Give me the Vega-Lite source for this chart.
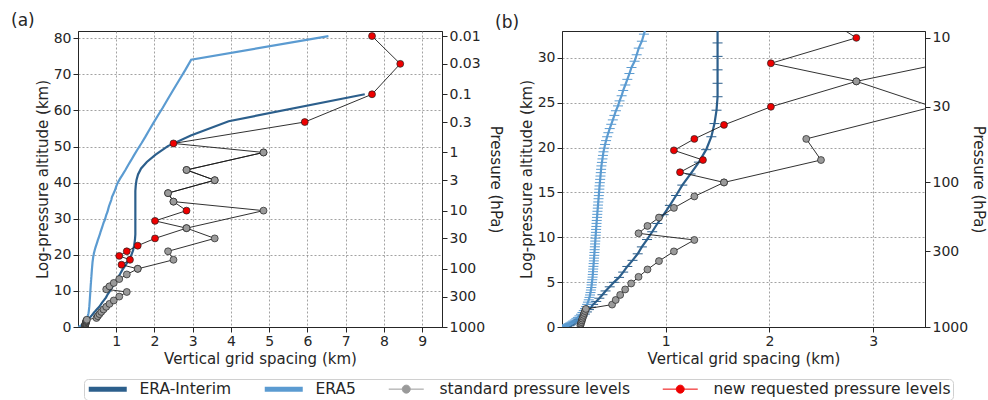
{
  "$schema": "https://vega.github.io/schema/vega-lite/v6.json",
  "padding": {"left": 10, "top": 11, "right": 5, "bottom": 2},
  "background": "white",
  "bounds": "flush",
  "spacing": 120,
  "datasets": {
    "era": [
      {"cat":"ERA-Interim","z":0.02,"dz":0.02},{"cat":"ERA-Interim","z":0.07,"dz":0.05},{"cat":"ERA-Interim","z":0.14,"dz":0.07},{"cat":"ERA-Interim","z":0.22,"dz":0.08},{"cat":"ERA-Interim","z":0.31,"dz":0.09},{"cat":"ERA-Interim","z":0.42,"dz":0.11},{"cat":"ERA-Interim","z":0.54,"dz":0.12},{"cat":"ERA-Interim","z":0.68,"dz":0.14},{"cat":"ERA-Interim","z":0.84,"dz":0.16},{"cat":"ERA-Interim","z":1.02,"dz":0.18},{"cat":"ERA-Interim","z":1.22,"dz":0.20},{"cat":"ERA-Interim","z":1.44,"dz":0.22},{"cat":"ERA-Interim","z":1.68,"dz":0.24},{"cat":"ERA-Interim","z":1.94,"dz":0.26},{"cat":"ERA-Interim","z":2.22,"dz":0.28},{"cat":"ERA-Interim","z":2.52,"dz":0.30},{"cat":"ERA-Interim","z":2.85,"dz":0.33},{"cat":"ERA-Interim","z":3.21,"dz":0.36},{"cat":"ERA-Interim","z":3.60,"dz":0.39},{"cat":"ERA-Interim","z":4.02,"dz":0.42},{"cat":"ERA-Interim","z":4.48,"dz":0.46},{"cat":"ERA-Interim","z":4.98,"dz":0.50},{"cat":"ERA-Interim","z":5.53,"dz":0.55},{"cat":"ERA-Interim","z":6.12,"dz":0.59},{"cat":"ERA-Interim","z":6.75,"dz":0.63},{"cat":"ERA-Interim","z":7.43,"dz":0.68},{"cat":"ERA-Interim","z":8.16,"dz":0.73},{"cat":"ERA-Interim","z":8.93,"dz":0.77},{"cat":"ERA-Interim","z":9.75,"dz":0.82},{"cat":"ERA-Interim","z":10.62,"dz":0.87},{"cat":"ERA-Interim","z":11.54,"dz":0.92},{"cat":"ERA-Interim","z":12.52,"dz":0.98},{"cat":"ERA-Interim","z":13.56,"dz":1.04},{"cat":"ERA-Interim","z":14.66,"dz":1.10},{"cat":"ERA-Interim","z":15.82,"dz":1.16},{"cat":"ERA-Interim","z":17.06,"dz":1.24},{"cat":"ERA-Interim","z":18.38,"dz":1.32},{"cat":"ERA-Interim","z":19.77,"dz":1.39},{"cat":"ERA-Interim","z":21.21,"dz":1.44},{"cat":"ERA-Interim","z":22.68,"dz":1.47},{"cat":"ERA-Interim","z":24.17,"dz":1.49},{"cat":"ERA-Interim","z":25.67,"dz":1.50},{"cat":"ERA-Interim","z":27.17,"dz":1.50},{"cat":"ERA-Interim","z":28.67,"dz":1.50},{"cat":"ERA-Interim","z":30.17,"dz":1.50},{"cat":"ERA-Interim","z":31.67,"dz":1.50},{"cat":"ERA-Interim","z":33.17,"dz":1.50},{"cat":"ERA-Interim","z":34.67,"dz":1.50},{"cat":"ERA-Interim","z":36.17,"dz":1.50},{"cat":"ERA-Interim","z":37.67,"dz":1.50},{"cat":"ERA-Interim","z":39.18,"dz":1.51},{"cat":"ERA-Interim","z":40.71,"dz":1.53},{"cat":"ERA-Interim","z":42.28,"dz":1.57},{"cat":"ERA-Interim","z":43.93,"dz":1.65},{"cat":"ERA-Interim","z":45.73,"dz":1.80},{"cat":"ERA-Interim","z":47.76,"dz":2.03},{"cat":"ERA-Interim","z":50.11,"dz":2.35},{"cat":"ERA-Interim","z":53.06,"dz":2.95},{"cat":"ERA-Interim","z":57.00,"dz":3.94},{"cat":"ERA-Interim","z":64.47,"dz":7.50},
      {"cat":"ERA5","z":0.02,"dz":0.01},{"cat":"ERA5","z":0.04,"dz":0.02},{"cat":"ERA5","z":0.06,"dz":0.02},{"cat":"ERA5","z":0.08,"dz":0.02},{"cat":"ERA5","z":0.10,"dz":0.022},{"cat":"ERA5","z":0.13,"dz":0.027},{"cat":"ERA5","z":0.16,"dz":0.033},{"cat":"ERA5","z":0.20,"dz":0.04},{"cat":"ERA5","z":0.25,"dz":0.048},{"cat":"ERA5","z":0.31,"dz":0.058},{"cat":"ERA5","z":0.38,"dz":0.069},{"cat":"ERA5","z":0.46,"dz":0.081},{"cat":"ERA5","z":0.55,"dz":0.094},{"cat":"ERA5","z":0.66,"dz":0.108},{"cat":"ERA5","z":0.78,"dz":0.123},{"cat":"ERA5","z":0.92,"dz":0.138},{"cat":"ERA5","z":1.07,"dz":0.153},{"cat":"ERA5","z":1.24,"dz":0.168},{"cat":"ERA5","z":1.42,"dz":0.183},{"cat":"ERA5","z":1.62,"dz":0.197},{"cat":"ERA5","z":1.83,"dz":0.21},{"cat":"ERA5","z":2.05,"dz":0.222},{"cat":"ERA5","z":2.28,"dz":0.233},{"cat":"ERA5","z":2.52,"dz":0.242},{"cat":"ERA5","z":2.77,"dz":0.25},{"cat":"ERA5","z":3.03,"dz":0.258},{"cat":"ERA5","z":3.30,"dz":0.265},{"cat":"ERA5","z":3.57,"dz":0.27},{"cat":"ERA5","z":3.84,"dz":0.275},{"cat":"ERA5","z":4.12,"dz":0.279},{"cat":"ERA5","z":4.40,"dz":0.283},{"cat":"ERA5","z":4.69,"dz":0.286},{"cat":"ERA5","z":4.98,"dz":0.289},{"cat":"ERA5","z":5.27,"dz":0.292},{"cat":"ERA5","z":5.56,"dz":0.295},{"cat":"ERA5","z":5.86,"dz":0.297},{"cat":"ERA5","z":6.16,"dz":0.299},{"cat":"ERA5","z":6.46,"dz":0.301},{"cat":"ERA5","z":6.76,"dz":0.303},{"cat":"ERA5","z":7.07,"dz":0.305},{"cat":"ERA5","z":7.37,"dz":0.307},{"cat":"ERA5","z":7.68,"dz":0.309},{"cat":"ERA5","z":7.99,"dz":0.311},{"cat":"ERA5","z":8.31,"dz":0.313},{"cat":"ERA5","z":8.62,"dz":0.315},{"cat":"ERA5","z":8.94,"dz":0.317},{"cat":"ERA5","z":9.26,"dz":0.319},{"cat":"ERA5","z":9.58,"dz":0.321},{"cat":"ERA5","z":9.90,"dz":0.323},{"cat":"ERA5","z":10.23,"dz":0.325},{"cat":"ERA5","z":10.55,"dz":0.327},{"cat":"ERA5","z":10.88,"dz":0.329},{"cat":"ERA5","z":11.21,"dz":0.331},{"cat":"ERA5","z":11.55,"dz":0.333},{"cat":"ERA5","z":11.88,"dz":0.335},{"cat":"ERA5","z":12.22,"dz":0.338},{"cat":"ERA5","z":12.56,"dz":0.34},{"cat":"ERA5","z":12.90,"dz":0.342},{"cat":"ERA5","z":13.25,"dz":0.345},{"cat":"ERA5","z":13.59,"dz":0.347},{"cat":"ERA5","z":13.94,"dz":0.35},{"cat":"ERA5","z":14.30,"dz":0.352},{"cat":"ERA5","z":14.65,"dz":0.355},{"cat":"ERA5","z":15.01,"dz":0.357},{"cat":"ERA5","z":15.37,"dz":0.36},{"cat":"ERA5","z":15.73,"dz":0.362},{"cat":"ERA5","z":16.09,"dz":0.365},{"cat":"ERA5","z":16.46,"dz":0.368},{"cat":"ERA5","z":16.83,"dz":0.371},{"cat":"ERA5","z":17.21,"dz":0.374},{"cat":"ERA5","z":17.58,"dz":0.377},{"cat":"ERA5","z":17.96,"dz":0.38},{"cat":"ERA5","z":18.35,"dz":0.385},{"cat":"ERA5","z":18.74,"dz":0.39},{"cat":"ERA5","z":19.13,"dz":0.395},{"cat":"ERA5","z":19.53,"dz":0.40},{"cat":"ERA5","z":19.94,"dz":0.408},{"cat":"ERA5","z":20.35,"dz":0.415},{"cat":"ERA5","z":20.78,"dz":0.425},{"cat":"ERA5","z":21.21,"dz":0.435},{"cat":"ERA5","z":21.66,"dz":0.447},{"cat":"ERA5","z":22.12,"dz":0.46},{"cat":"ERA5","z":22.60,"dz":0.475},{"cat":"ERA5","z":23.09,"dz":0.49},{"cat":"ERA5","z":23.59,"dz":0.505},{"cat":"ERA5","z":24.11,"dz":0.52},{"cat":"ERA5","z":24.65,"dz":0.54},{"cat":"ERA5","z":25.21,"dz":0.555},{"cat":"ERA5","z":25.78,"dz":0.575},{"cat":"ERA5","z":26.37,"dz":0.59},{"cat":"ERA5","z":26.98,"dz":0.61},{"cat":"ERA5","z":27.61,"dz":0.63},{"cat":"ERA5","z":28.26,"dz":0.65},{"cat":"ERA5","z":28.93,"dz":0.67},{"cat":"ERA5","z":29.63,"dz":0.70},{"cat":"ERA5","z":30.35,"dz":0.72},{"cat":"ERA5","z":31.09,"dz":0.74},{"cat":"ERA5","z":31.86,"dz":0.77},{"cat":"ERA5","z":32.65,"dz":0.79},{"cat":"ERA5","z":33.46,"dz":0.81},{"cat":"ERA5","z":34.30,"dz":0.84},{"cat":"ERA5","z":35.17,"dz":0.87},{"cat":"ERA5","z":36.06,"dz":0.89},{"cat":"ERA5","z":36.99,"dz":0.93},{"cat":"ERA5","z":37.96,"dz":0.97},{"cat":"ERA5","z":38.96,"dz":1.00},{"cat":"ERA5","z":40.00,"dz":1.04},{"cat":"ERA5","z":41.10,"dz":1.10},{"cat":"ERA5","z":42.27,"dz":1.17},{"cat":"ERA5","z":43.51,"dz":1.24},{"cat":"ERA5","z":44.82,"dz":1.31},{"cat":"ERA5","z":46.21,"dz":1.39},{"cat":"ERA5","z":47.68,"dz":1.47},{"cat":"ERA5","z":49.24,"dz":1.56},{"cat":"ERA5","z":50.90,"dz":1.66},{"cat":"ERA5","z":52.66,"dz":1.76},{"cat":"ERA5","z":54.52,"dz":1.86},{"cat":"ERA5","z":56.49,"dz":1.97},{"cat":"ERA5","z":58.58,"dz":2.09},{"cat":"ERA5","z":60.80,"dz":2.22},{"cat":"ERA5","z":63.15,"dz":2.35},{"cat":"ERA5","z":65.64,"dz":2.49},{"cat":"ERA5","z":68.28,"dz":2.64},{"cat":"ERA5","z":71.08,"dz":2.80},{"cat":"ERA5","z":74.04,"dz":2.96},{"cat":"ERA5","z":80.59,"dz":6.55}
    ],
    "levels": [
      {"chain":"std","z":0.177,"dz":0.177,"cat":"standard pressure levels"},
      {"chain":"std","z":0.359,"dz":0.182,"cat":"standard pressure levels"},
      {"chain":"std","z":0.546,"dz":0.187,"cat":"standard pressure levels"},
      {"chain":"std","z":0.738,"dz":0.192,"cat":"standard pressure levels"},
      {"chain":"std","z":0.935,"dz":0.197,"cat":"standard pressure levels"},
      {"chain":"std","z":1.138,"dz":0.203,"cat":"standard pressure levels"},
      {"chain":"std","z":1.347,"dz":0.209,"cat":"standard pressure levels"},
      {"chain":"std","z":1.562,"dz":0.215,"cat":"standard pressure levels"},
      {"chain":"std","z":1.784,"dz":0.222,"cat":"standard pressure levels"},
      {"chain":"std","z":2.014,"dz":0.230,"cat":"standard pressure levels"},
      {"chain":"std","z":2.497,"dz":0.483,"cat":"standard pressure levels"},
      {"chain":"std","z":3.015,"dz":0.518,"cat":"standard pressure levels"},
      {"chain":"std","z":3.576,"dz":0.561,"cat":"standard pressure levels"},
      {"chain":"std","z":4.185,"dz":0.609,"cat":"standard pressure levels"},
      {"chain":"std","z":4.852,"dz":0.667,"cat":"standard pressure levels"},
      {"chain":"std","z":5.590,"dz":0.738,"cat":"standard pressure levels"},
      {"chain":"std","z":6.414,"dz":0.824,"cat":"standard pressure levels"},
      {"chain":"std","z":7.349,"dz":0.935,"cat":"standard pressure levels"},
      {"chain":"std","z":8.428,"dz":1.079,"cat":"standard pressure levels"},
      {"chain":"std","z":9.704,"dz":1.276,"cat":"standard pressure levels"},
      {"chain":"std","z":10.442,"dz":0.738,"cat":"standard pressure levels"},
      {"chain":"std","z":11.266,"dz":0.824,"cat":"standard pressure levels"},
      {"chain":"std","z":12.201,"dz":0.935,"cat":"standard pressure levels"},
      {"chain":"std","z":13.280,"dz":1.079,"cat":"standard pressure levels"},
      {"chain":"std","z":14.556,"dz":1.276,"cat":"standard pressure levels"},
      {"chain":"std","z":16.118,"dz":1.562,"cat":"standard pressure levels"},
      {"chain":"std","z":18.615,"dz":2.497,"cat":"standard pressure levels"},
      {"chain":"std","z":20.970,"dz":2.355,"cat":"standard pressure levels"},
      {"chain":"std","z":24.546,"dz":3.576,"cat":"standard pressure levels"},
      {"chain":"std","z":27.384,"dz":2.838,"cat":"standard pressure levels"},
      {"chain":"std","z":32.236,"dz":4.852,"cat":"standard pressure levels"},
      {"chain":"std","z":34.733,"dz":2.497,"cat":"standard pressure levels"},
      {"chain":"std","z":37.088,"dz":2.355,"cat":"standard pressure levels"},
      {"chain":"std","z":40.664,"dz":3.576,"cat":"standard pressure levels"},
      {"chain":"std","z":43.502,"dz":2.838,"cat":"standard pressure levels"},
      {"chain":"std","z":48.354,"dz":4.852,"cat":"standard pressure levels"},
      {"chain":"new","z":16.118,"dz":1.562,"cat":"standard pressure levels"},
      {"chain":"new","z":17.256,"dz":1.138,"cat":"new requested pressure levels"},
      {"chain":"new","z":18.615,"dz":1.359,"cat":"new requested pressure levels"},
      {"chain":"new","z":19.694,"dz":1.079,"cat":"new requested pressure levels"},
      {"chain":"new","z":20.970,"dz":1.276,"cat":"new requested pressure levels"},
      {"chain":"new","z":22.532,"dz":1.562,"cat":"new requested pressure levels"},
      {"chain":"new","z":24.546,"dz":2.014,"cat":"new requested pressure levels"},
      {"chain":"new","z":27.384,"dz":2.838,"cat":"standard pressure levels"},
      {"chain":"new","z":29.398,"dz":2.014,"cat":"new requested pressure levels"},
      {"chain":"new","z":32.236,"dz":2.838,"cat":"new requested pressure levels"},
      {"chain":"new","z":34.733,"dz":2.497,"cat":"standard pressure levels"},
      {"chain":"new","z":37.088,"dz":2.355,"cat":"standard pressure levels"},
      {"chain":"new","z":40.664,"dz":3.576,"cat":"standard pressure levels"},
      {"chain":"new","z":43.502,"dz":2.838,"cat":"standard pressure levels"},
      {"chain":"new","z":48.354,"dz":4.852,"cat":"standard pressure levels"},
      {"chain":"new","z":50.851,"dz":2.497,"cat":"new requested pressure levels"},
      {"chain":"new","z":56.782,"dz":5.931,"cat":"new requested pressure levels"},
      {"chain":"new","z":64.472,"dz":7.690,"cat":"new requested pressure levels"},
      {"chain":"new","z":72.900,"dz":8.428,"cat":"new requested pressure levels"},
      {"chain":"new","z":80.590,"dz":7.690,"cat":"new requested pressure levels"}
    ]
  },
  "hconcat": [
    {
      "width": 364,
      "height": 296,
      "title": {"text": "(a)", "anchor": "start", "frame": "group", "dx": -67, "offset": -14, "baseline": "alphabetic"},
      "resolve": {"axis": {"x": "independent", "y": "independent"}},
      "layer": [
        {
          "data": {"name": "era"},
          "mark": {"type": "line", "strokeWidth": 2.2, "clip": true},
          "encoding": {
            "x": {"field": "dz", "type": "quantitative", "scale": {"domain": [0, 9.52], "nice": false, "zero": false}, "axis": {"values": [1,2,3,4,5,6,7,8,9], "title": "Vertical grid spacing (km)", "grid": true, "orient": "bottom"}},
            "y": {"field": "z", "type": "quantitative", "scale": {"domain": [0, 82], "nice": false}, "axis": {"values": [0,10,20,30,40,50,60,70,80], "title": "Log-pressure altitude (km)", "grid": true, "orient": "left"}},
            "color": {"field": "cat", "type": "nominal",
              "scale": {"domain": ["ERA-Interim", "ERA5", "standard pressure levels", "new requested pressure levels"], "range": ["#2c5f8c", "#5b9bd1", "#9a9a9a", "#ee0000"]},
              "legend": {
                "title": null, "orient": "none", "legendX": 6, "legendY": 348, "direction": "horizontal", "columns": 4,
                "labelFontSize": 15.5, "labelColor": "#262626", "labelFont": "DejaVu Sans", "labelOffset": 38, "columnPadding": 30, "labelLimit": 0,
                "symbolSize": 100, "padding": 2, "strokeColor": "#d0d0d0", "cornerRadius": 4, "fillColor": "white",
                "symbolStrokeColor": "#222222", "symbolStrokeWidth": 1,
                "encode": {"symbols": {
                  "enter": {
                    "stroke": {"signal": "indexof(['ERA-Interim','ERA5'], datum.value) >= 0 ? 'transparent' : '#222222'"}
                  },
                  "update": {
                  "shape": {"signal": "indexof(['ERA-Interim','ERA5'], datum.value) >= 0 ? 'M-1,-0.5H6.6V0.5H-1Z' : 'M-1,0H1.7M3.3,0H6M3.3,0A0.8,0.8 0 1,1 1.7,0A0.8,0.8 0 1,1 3.3,0'"},
                  "fill": {"scale": "color", "field": "value"},
                  "stroke": {"signal": "indexof(['ERA-Interim','ERA5'], datum.value) >= 0 ? 'transparent' : '#222222'"},
                  "strokeWidth": {"signal": "indexof(['ERA-Interim','ERA5'], datum.value) >= 0 ? 0 : 1"},
                  "strokeDash": {"value": []},
                  "opacity": {"value": 1}
                }}}
              }},
            "order": {"field": "z", "type": "quantitative"}
          }
        },
        {
          "data": {"name": "levels"},
          "mark": {"type": "line", "color": "#1a1a1a", "strokeWidth": 0.9, "clip": true},
          "encoding": {
            "x": {"field": "dz", "type": "quantitative", "axis": null},
            "y": {"field": "z", "type": "quantitative", "axis": {"orient": "right", "values": [80.59, 72.9, 64.47, 56.78, 48.35, 40.66, 32.24, 24.55, 16.12, 8.43, 0], "labelExpr": "format(1000*exp(-datum.value/7), '.1r')", "title": "Pressure (hPa)", "grid": false}},
            "detail": {"field": "chain", "type": "nominal"},
            "order": {"field": "z", "type": "quantitative"}
          }
        },
        {
          "data": {"name": "levels"},
          "mark": {"type": "point", "filled": true, "size": 48, "stroke": "#222222", "strokeWidth": 0.7, "opacity": 1, "clip": true},
          "encoding": {
            "x": {"field": "dz", "type": "quantitative", "axis": null},
            "y": {"field": "z", "type": "quantitative", "axis": null},
            "color": {"field": "cat", "type": "nominal"}
          }
        }
      ]
    },
    {
      "width": 363,
      "height": 296,
      "title": {"text": "(b)", "anchor": "start", "frame": "group", "dx": -67, "offset": -14, "baseline": "alphabetic"},
      "resolve": {"axis": {"x": "independent", "y": "independent"}},
      "layer": [
        {
          "data": {"name": "era"},
          "mark": {"type": "line", "strokeWidth": 2.2, "clip": true},
          "encoding": {
            "x": {"field": "dz", "type": "quantitative", "scale": {"domain": [0, 3.5], "nice": false, "zero": false}, "axis": {"values": [1,2,3], "title": "Vertical grid spacing (km)", "grid": true, "orient": "bottom"}},
            "y": {"field": "z", "type": "quantitative", "scale": {"domain": [0, 33], "nice": false}, "axis": {"values": [0,5,10,15,20,25,30], "title": "Log-pressure altitude (km)", "grid": true, "orient": "left"}},
            "color": {"field": "cat", "type": "nominal"},
            "order": {"field": "z", "type": "quantitative"}
          }
        },
        {
          "data": {"name": "era"},
          "mark": {"type": "point", "shape": "M-1,0H1", "size": 100, "strokeWidth": 1, "filled": false, "opacity": 1, "clip": true},
          "encoding": {
            "x": {"field": "dz", "type": "quantitative", "axis": null},
            "y": {"field": "z", "type": "quantitative", "axis": null},
            "color": {"field": "cat", "type": "nominal"}
          }
        },
        {
          "data": {"name": "levels"},
          "mark": {"type": "line", "color": "#1a1a1a", "strokeWidth": 0.9, "clip": true},
          "encoding": {
            "x": {"field": "dz", "type": "quantitative", "axis": null},
            "y": {"field": "z", "type": "quantitative", "axis": {"orient": "right", "values": [32.24, 24.55, 16.12, 8.43, 0], "labelExpr": "format(1000*exp(-datum.value/7), '.1r')", "title": "Pressure (hPa)", "grid": false}},
            "detail": {"field": "chain", "type": "nominal"},
            "order": {"field": "z", "type": "quantitative"}
          }
        },
        {
          "data": {"name": "levels"},
          "mark": {"type": "point", "filled": true, "size": 48, "stroke": "#222222", "strokeWidth": 0.7, "opacity": 1, "clip": true},
          "encoding": {
            "x": {"field": "dz", "type": "quantitative", "axis": null},
            "y": {"field": "z", "type": "quantitative", "axis": null},
            "color": {"field": "cat", "type": "nominal"}
          }
        }
      ]
    }
  ],
  "config": {
    "font": "DejaVu Sans",
    "view": {"stroke": "#262626", "strokeWidth": 1},
    "axis": {
      "labelFont": "DejaVu Sans", "titleFont": "DejaVu Sans",
      "labelFontSize": 14, "titleFontSize": 15, "titleFontWeight": "normal",
      "labelColor": "#262626", "titleColor": "#262626",
      "domainColor": "#262626", "tickColor": "#262626", "tickSize": 5,
      "labelPadding": 2, "titlePadding": 3,
      "gridColor": "#8a8a8a", "gridDash": [2, 2], "gridWidth": 0.8,
      "labelFlush": false, "labelOverlap": false
    },
    "title": {"font": "DejaVu Sans", "fontSize": 17, "fontWeight": "normal", "color": "#262626"}
  }
}
